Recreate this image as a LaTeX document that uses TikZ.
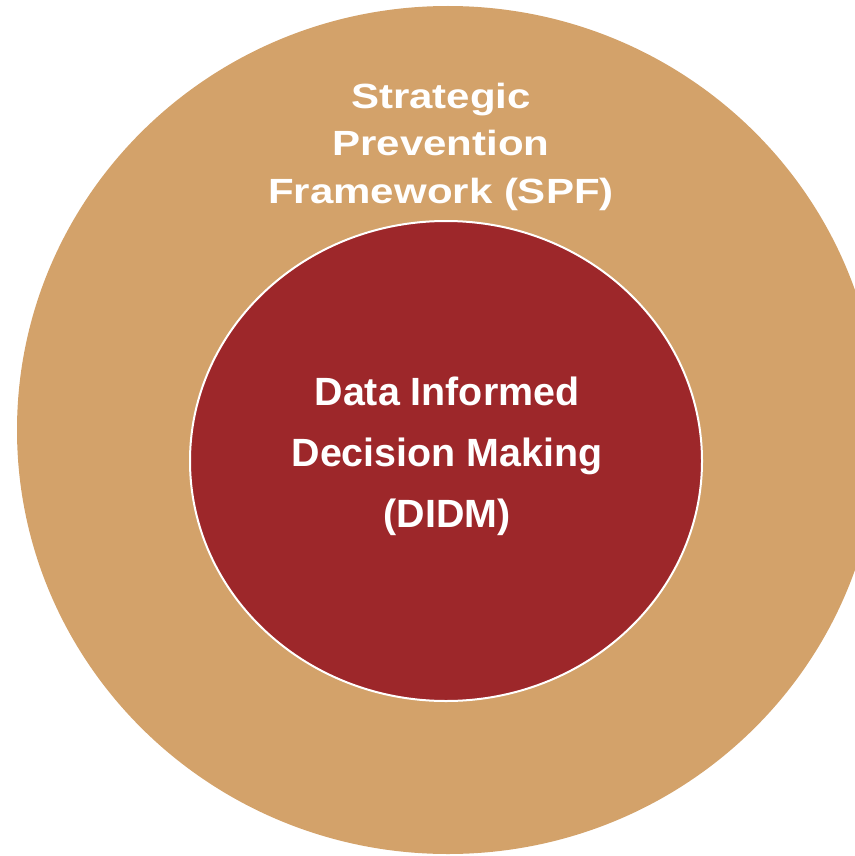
\documentclass[tikz,border=0pt]{standalone}
\usepackage{fontspec}
\setmainfont{Liberation Sans}
\newfontfamily\widesans[FakeStretch=1.2]{Liberation Sans}
\usepackage{tikz}
\usetikzlibrary{positioning,shapes.geometric}

\definecolor{spftan}{RGB}{211,162,106}
\definecolor{didmred}{RGB}{157,39,42}

\begin{document}
\begin{tikzpicture}[x=1pt,y=-1pt,
      outer ring/.style={ellipse,fill=spftan,inner sep=0mm,
        minimum width=862pt,minimum height=848pt},
      inner ring/.style={ellipse,fill=didmred,draw=white,line width=2pt,
        inner sep=0mm,minimum width=512pt,minimum height=480pt},
      ring text/.style={text=white,align=center,anchor=base,inner sep=0mm}]

      \useasboundingbox (0,0) rectangle (854,856);

      \node[outer ring] (spf) at (448,430) {};
      \node[inner ring] (didm) at (446,461) {};

      \node[ring text,font=\widesans\bfseries\fontsize{35}{47.5}\selectfont]
        (spf-label) at (441,203)
        {Strategic\\Prevention\\Framework (SPF)};
      \node[ring text,font=\bfseries\fontsize{39.4}{61}\selectfont]
        (didm-label) at (447,527)
        {Data Informed\\Decision Making\\(DIDM)};
    \end{tikzpicture}
\end{document}
